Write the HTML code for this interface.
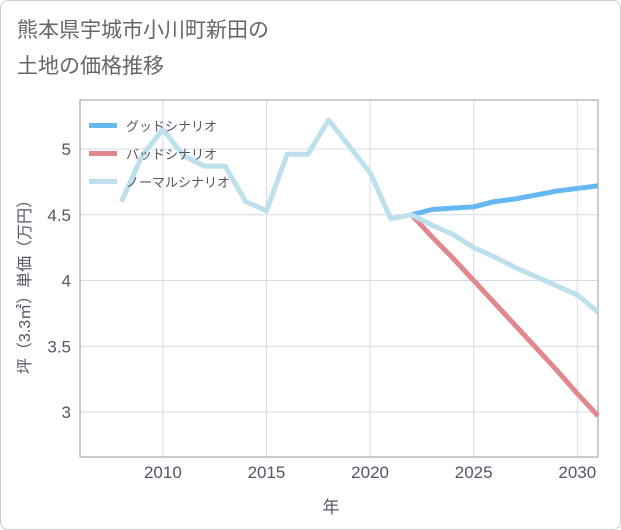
<!DOCTYPE html>
<html><head><meta charset="utf-8"><style>
body{margin:0;background:#fff;font-family:"Liberation Sans","Noto Sans CJK JP",sans-serif;}
#wrap{position:relative;width:619px;height:528px;border:1px solid #ccc;border-radius:8px;overflow:hidden;}
#title{position:absolute;left:16px;top:12px;font-size:21px;line-height:36px;color:#666;}
</style></head><body>
<div id="wrap">
<div id="title">熊本県宇城市小川町新田の<br>土地の価格推移</div>
<svg id="chart" width="621" height="530" style="position:absolute;left:-1px;top:-1px"></svg>
</div>
<script>
const years=[2008,2009,2010,2011,2012,2013,2014,2015,2016,2017,2018,2019,2020,2021,2022,2023,2024,2025,2026,2027,2028,2029,2030,2031];
const normalVals=[4.6,4.95,5.15,4.95,4.87,4.87,4.6,4.53,4.96,4.96,5.22,5.02,4.82,4.47,4.5,4.42,4.35,4.25,4.18,4.10,4.03,3.96,3.89,3.76];
const goodYears=[2022,2023,2024,2025,2026,2027,2028,2029,2030,2031];
const goodVals=[4.5,4.54,4.55,4.56,4.6,4.62,4.65,4.68,4.70,4.72];
const badVals=[4.5,4.33,4.17,4.0,3.83,3.66,3.49,3.32,3.14,2.97];
const xTicks=[2010,2015,2020,2025,2030];
const yTicks=[3,3.5,4,4.5,5];
const yTickLabels=["3","3.5","4","4.5","5"];
const L=80,R=598,T=100,B=457;
const x=v=>L+(v-2006)*(R-L)/25;
const y=v=>412-(v-3)*131.5;
const svg=document.getElementById('chart');const NS='http://www.w3.org/2000/svg';
function mk(t,a,p){const e=document.createElementNS(NS,t);for(const k in a)e.setAttribute(k,a[k]);(p||svg).appendChild(e);return e;}
let e;
xTicks.forEach(t=>{e=mk('line',{x1:x(t),x2:x(t),y1:T,y2:B,stroke:'#d3dce6'});


e=mk('text',{x:x(t),y:478,'text-anchor':'middle','font-size':17,fill:'#556'});e.textContent=t;

});
yTicks.forEach((t,i)=>{e=mk('line',{x1:L,x2:R,y1:y(t),y2:y(t),stroke:'#d3dce6'});


e=mk('text',{x:71,y:y(t)+6,'text-anchor':'end','font-size':17,fill:'#556'});e.textContent=yTickLabels[i];

});
e=mk('rect',{x:L,y:T,width:R-L,height:B-T,fill:'none',stroke:'#999'});


function line(xs,vs,c,n){const p=mk('polyline',{points:xs.map((t,i)=>x(t)+','+y(vs[i])).join(' '),fill:'none',stroke:c,'stroke-width':5,'stroke-linejoin':'round'});

}
line(goodYears,badVals,'#e0888e','bad-scenario-line');
line(goodYears,goodVals,'#66b8f2','good-scenario-line');
line(years,normalVals,'#bde0ec','normal-scenario-line');
const legend=[['グッドシナリオ','#66b8f2'],['バッドシナリオ','#e0888e'],['ノーマルシナリオ','#bde0ec']];
legend.forEach((l,i)=>{const g=mk('g',{});


mk('rect',{x:89,y:123+i*28,width:28,height:5,fill:l[1]},g);
const t=mk('text',{x:126,y:131+i*28,'font-size':13,fill:'#556'},g);t.textContent=l[0];});
e=mk('text',{x:331,y:513,'text-anchor':'middle','font-size':17,fill:'#556'});e.textContent='年';


e=mk('text',{x:0,y:0,'text-anchor':'middle','font-size':16,fill:'#556',transform:'translate(30,283) rotate(-90)'});e.textContent='坪（3.3㎡）単価（万円）';


</script>
</body></html>
